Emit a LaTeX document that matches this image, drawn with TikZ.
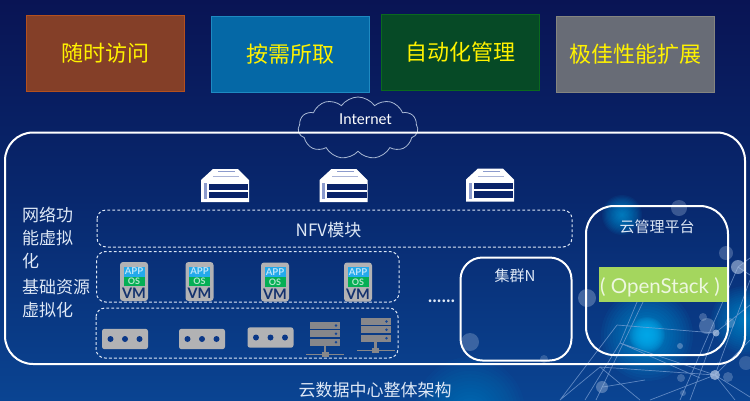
\documentclass[tikz,border=0pt]{standalone}
\usepackage{fontspec}
\setmainfont{Noto Sans CJK SC}
\newfontfamily\latinfont{Lato}
\usetikzlibrary{shapes.symbols}
\definecolor{bgtop}{RGB}{9,20,84}
\definecolor{bgmid}{RGB}{8,40,110}
\definecolor{bgbot}{RGB}{10,68,146}
\definecolor{softwhite}{RGB}{222,232,246}
\definecolor{glow}{RGB}{0,175,240}
\definecolor{netline}{RGB}{130,165,215}
\definecolor{bubble}{RGB}{175,195,225}
\definecolor{iconGrey}{RGB}{178,178,180}
\definecolor{rackGrey}{RGB}{135,135,138}
\definecolor{appblue}{RGB}{35,170,235}
\definecolor{osgreen}{RGB}{5,175,85}
\definecolor{vmnavy}{RGB}{20,50,110}
\definecolor{dotblue}{RGB}{10,55,135}
\definecolor{rackdot}{RGB}{20,70,150}
\definecolor{roofa}{RGB}{140,155,205}
\definecolor{roofb}{RGB}{170,180,215}
\definecolor{windownavy}{RGB}{10,35,105}
\definecolor{aLine}{RGB}{180,80,30}
\definecolor{aFill}{RGB}{132,63,40}
\definecolor{bLine}{RGB}{30,138,194}
\definecolor{bFill}{RGB}{5,104,166}
\definecolor{cLine}{RGB}{10,105,30}
\definecolor{cFill}{RGB}{6,74,38}
\definecolor{dLine}{RGB}{133,133,127}
\definecolor{dFill}{RGB}{104,108,118}
\definecolor{stackgreen}{RGB}{164,214,94}
\newcommand{\fsz}[1]{\fontsize{#1}{#1}\selectfont}
\tikzset{
  topbox/.style={draw=#1,line width=1pt,minimum width=158pt,minimum height=76pt,inner sep=0pt,anchor=center,text=yellow,font=\fsz{22}},
  whitebox/.style={draw=white,line width=2pt},
  dashbox/.style={draw=softwhite,line width=1pt,dash pattern=on 2.8pt off 2.2pt,rounded corners=9pt},
  lbl/.style={text=softwhite,inner sep=0pt,font=\fsz{15}},
  leftlbl/.style={text=softwhite,inner sep=0pt,font=\fsz{17},align=left,anchor=west},
  netl/.style={draw=netline,line width=.7pt,opacity=.7},
  bub/.style={fill=bubble,opacity=#1},
  vmicon/.pic={
    \fill[iconGrey,rounded corners=3pt] (-14,-20) rectangle (14,19);
    \fill[appblue] (-10.5,-15.5) rectangle (10.5,-5.5);
    \fill[osgreen] (-10.5,-5.5) rectangle (10.5,4);
    \node[inner sep=0pt,text=white!70!appblue,font=\latinfont\bfseries\fsz{9.5}] (-app) at (0,-10.5) {APP};
    \node[inner sep=0pt,text=white!70!osgreen,font=\latinfont\bfseries\fsz{9}] (-os) at (0,-0.7) {OS};
    \node[inner sep=0pt,text=vmnavy,font=\latinfont\bfseries\fsz{14.5}] (-vm) at (0,11.5) {VM};
  },
  rackbox/.pic={
    \fill[iconGrey,rounded corners=2.5pt] (-23,-10.2) rectangle (23,10.2);
    \foreach \dx in {-14.5,0,14.5} \fill[dotblue] (\dx,0) circle[radius=3pt];
  },
  stackicon/.pic={
    \foreach \ty in {0,8.4,16.8}{
      \fill[rackGrey] (-15,\ty) rectangle (15,\ty+6.8);
      \fill[rackdot] (11,\ty+3.4) circle[radius=1.4pt];
    }
    \fill[rackGrey] (-1.3,23.6) rectangle (1.3,30);
    \fill[rackGrey] (-19,31.5) rectangle (19,33.3);
    \fill[rackGrey] (-3.5,29.5) rectangle (3.5,35);
  },
  servericon/.pic={
    \fill[white] (0,12) -- (12,1) -- (37,1) -- (48,12) -- (48,34) -- (0,34) -- cycle;
    \fill[roofa] (17,3) rectangle (34,4.2);
    \fill[roofb] (12,8) rectangle (38,9);
    \fill[roofa] (2.5,15) rectangle (5.5,31);
    \fill[windownavy] (7.5,15.5) rectangle (47,21.5);
    \fill[windownavy] (7.5,23.5) rectangle (47,30);
  }
}
\begin{document}
\begin{tikzpicture}[x=1pt,y=-1pt]
\useasboundingbox (0,0) rectangle (750,400);
% background
\shade[top color=bgtop,bottom color=bgbot,middle color=bgmid] (0,0) rectangle (750,400);
\begin{scope}
\clip (0,0) rectangle (750,400);
% glows
\foreach \gx/\gy/\gr/\go in {647/335/46/.055,647/335/18/.13,745/320/34/.05,622/215/20/.06,470/412/55/.03}{
  \foreach \k in {1,...,16}{
    \fill[glow,opacity=\go] (\gx,\gy) circle[radius=\gr*\k/16*1pt];
  }
}
% network lines
\draw[netl] (617,325) -- (715,333) (617,325) -- (560,400) (620,343) -- (715,375)
  (620,343) -- (585,400) (637,302) -- (620,343) (643,302) -- (596,400)
  (600,367) -- (715,375) (600,367) -- (560,400) (600,367) -- (640,400)
  (715,375) -- (750,397) (715,333) -- (690,400) (738,267) -- (680,400)
  (750,280) -- (715,375) (715,333) -- (750,305) (715,375) -- (650,400)
  (620,343) -- (700,378) (750,340) -- (715,375) (738,267) -- (750,258)
  (738,267) -- (750,275) (715,375) -- (735,400) (645,380) -- (603,387);
% bubbles
\foreach \bx/\by/\br/\bo in {715/375/5/.75,716/333/3.5/.75,707/326/8/.35,703/317/4/.3,730/323/5/.3,680/346/3/.4,587/298/9/.35,602/387/6/.4,681/378/4/.3,683/393/3/.3,728/377/5/.3,746/363/7/.25,679/208/8/.3,726/253/7/.3,738/267/7/.6,470/342/9/.3,544/359/4/.25}{
  \fill[bub=\bo] (\bx,\by) circle[radius=\br*1pt];
}
\end{scope}
% top boxes
\node[topbox=aLine,fill=aFill] (access) at (105,53) {随时访问};
\node[topbox=bLine,fill=bFill] (demand) at (290,54) {按需所取};
\node[topbox=cLine,fill=cFill] (auto) at (460.5,52.5) {自动化管理};
\node[topbox=dLine,fill=dFill] (scale) at (635,54) {极佳性能扩展};
% cloud
\node[cloud,cloud puffs=11,cloud puff arc=110,aspect=1.9,draw=softwhite!75!bgmid,line width=.8pt,minimum width=120pt,minimum height=62pt,inner sep=0pt] (cloudshape) at (358,128) {};
\node[inner sep=0pt,text=white,font=\latinfont\fsz{15}] (internet) at (365.5,119.5) {Internet};
% frames
\draw[whitebox,rounded corners=28pt] (5,132.5) rectangle (745,364);
\draw[whitebox,rounded corners=22pt] (460.5,257.5) rectangle (571.5,360.5);
\draw[whitebox,rounded corners=28pt] (586,206) rectangle (728,355);
% dashed
\draw[dashbox] (97,210) rectangle (572,247);
\draw[dashbox] (96.5,251.5) rectangle (399,302);
\draw[dashbox] (96,308) rectangle (398,358);
% servers
\pic at (201,168) {servericon};
\pic at (319.5,168) {servericon};
\pic at (466,167.5) {servericon};
% labels
\node[lbl,font=\fsz{17}] (nfv) at (328.5,230) {NFV模块};
\node[leftlbl] (netvirt) at (22,240) {\begin{tabular}{@{}l@{}}网络功\\[3.6pt]能虚拟\\[3.6pt]化\end{tabular}};
\node[leftlbl] (infra) at (22,300.5) {\begin{tabular}{@{}l@{}}基础资源\\[3.6pt]虚拟化\end{tabular}};
\node[lbl] (cluster) at (515,276) {集群N};
\node[lbl] (mgmt) at (657,227) {云管理平台};
\node[fill=stackgreen,minimum width=128pt,minimum height=35pt,inner sep=0pt] (ostack) at (663,284.5) {};
\node[inner sep=0pt,text=white!80!stackgreen,font=\latinfont\fsz{20.5}] (ostacktxt) at (660,287) {( OpenStack )};
\node[lbl,font=\fsz{17}] (title) at (375,390) {云数据中心整体架构};
\node[inner sep=0pt,text=softwhite,font=\bfseries\fsz{13}] (dots) at (441.5,301) {......};
% VM icons
\pic (vm1) at (134,282) {vmicon};
\pic (vm2) at (199.5,282) {vmicon};
\pic (vm3) at (275,282.5) {vmicon};
\pic (vm4) at (358,282.5) {vmicon};
% hardware
\pic at (125,339) {rackbox};
\pic at (202,339) {rackbox};
\pic at (270.5,337.5) {rackbox};
\pic at (325,322) {stackicon};
\pic at (375.5,318) {stackicon};
\end{tikzpicture}
\end{document}
